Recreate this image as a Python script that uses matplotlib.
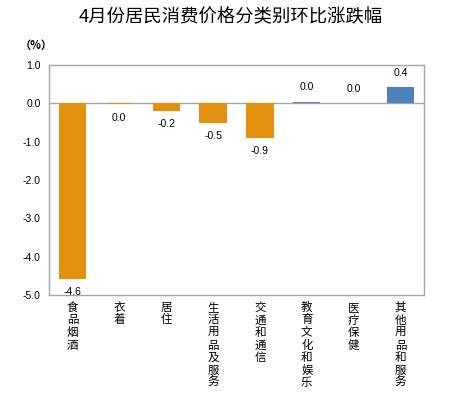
import matplotlib
matplotlib.use("Agg")
import matplotlib.pyplot as plt
from matplotlib.transforms import ScaledTranslation

categories = ["食品烟酒", "衣着", "居住", "生活用品及服务", "交通和通信", "教育文化和娱乐", "医疗保健", "其他用品和服务"]
values = [-4.57, -0.03, -0.2, -0.5, -0.9, 0.04, 0.0, 0.42]
labels = ["-4.6", "0.0", "-0.2", "-0.5", "-0.9", "0.0", "0.0", "0.4"]
yticks = [1.0, 0.0, -1.0, -2.0, -3.0, -4.0, -5.0]

plt.rcParams['font.family'] = ['Noto Sans CJK SC', 'DejaVu Sans']

fig = plt.figure(figsize=(4.6, 3.95), dpi=100)
ax = fig.add_axes([49/460, 1-295/395, 375/460, 230/395])

orange = '#E3900E'
blue = '#4F81BD'
x = list(range(len(categories)))
colors = [blue if v > 0 else orange for v in values]
ax.bar(x, values, width=0.58, color=colors, zorder=2)
ax.axhline(0, color='#A6A6A6', lw=1, zorder=1)

for xi, v, lab in zip(x, values, labels):
    if v > 0 or (v == 0 and xi >= 5):
        ax.annotate(lab, (xi, v), xytext=(0, 7), textcoords='offset points',
                    ha='center', va='bottom', fontsize=7.5, family='Liberation Sans')
    else:
        ax.annotate(lab, (xi, v), xytext=(0, -6), textcoords='offset points',
                    ha='center', va='top', fontsize=7.5, family='Liberation Sans')

ax.set_xlim(-0.5, len(categories) - 0.5)
ax.set_ylim(-5.0, 1.0)
ax.set_yticks(yticks)
ax.set_yticklabels([f"{t:.1f}" for t in yticks], family='Liberation Sans', fontsize=7.5)
ax.tick_params(axis='y', length=0, pad=6)
ax.tick_params(axis='x', length=0)
ax.set_xticks(x)
ax.set_xticklabels([])
for s in ax.spines.values():
    s.set_color('#A6A6A6')
    s.set_linewidth(1)

step = 12.5 * 72 / 100  # points per character
for xi, c in zip(x, categories):
    for i, ch in enumerate(c):
        off = ScaledTranslation(0, -(6 * 72 / 100 + i * step) / 72, fig.dpi_scale_trans)
        ax.text(xi, -5.0, ch, ha='center', va='top', fontsize=8.3,
                transform=ax.transData + off, clip_on=False)

fig.text(231/460, 1-17/395, "4月份居民消费价格分类别环比涨跌幅", ha='center', va='center', fontsize=13.2)
fig.text(36/460, 1-45/395, "（%）", ha='center', va='center', fontsize=8, weight='bold')

fig.savefig("out.png", dpi=100)
